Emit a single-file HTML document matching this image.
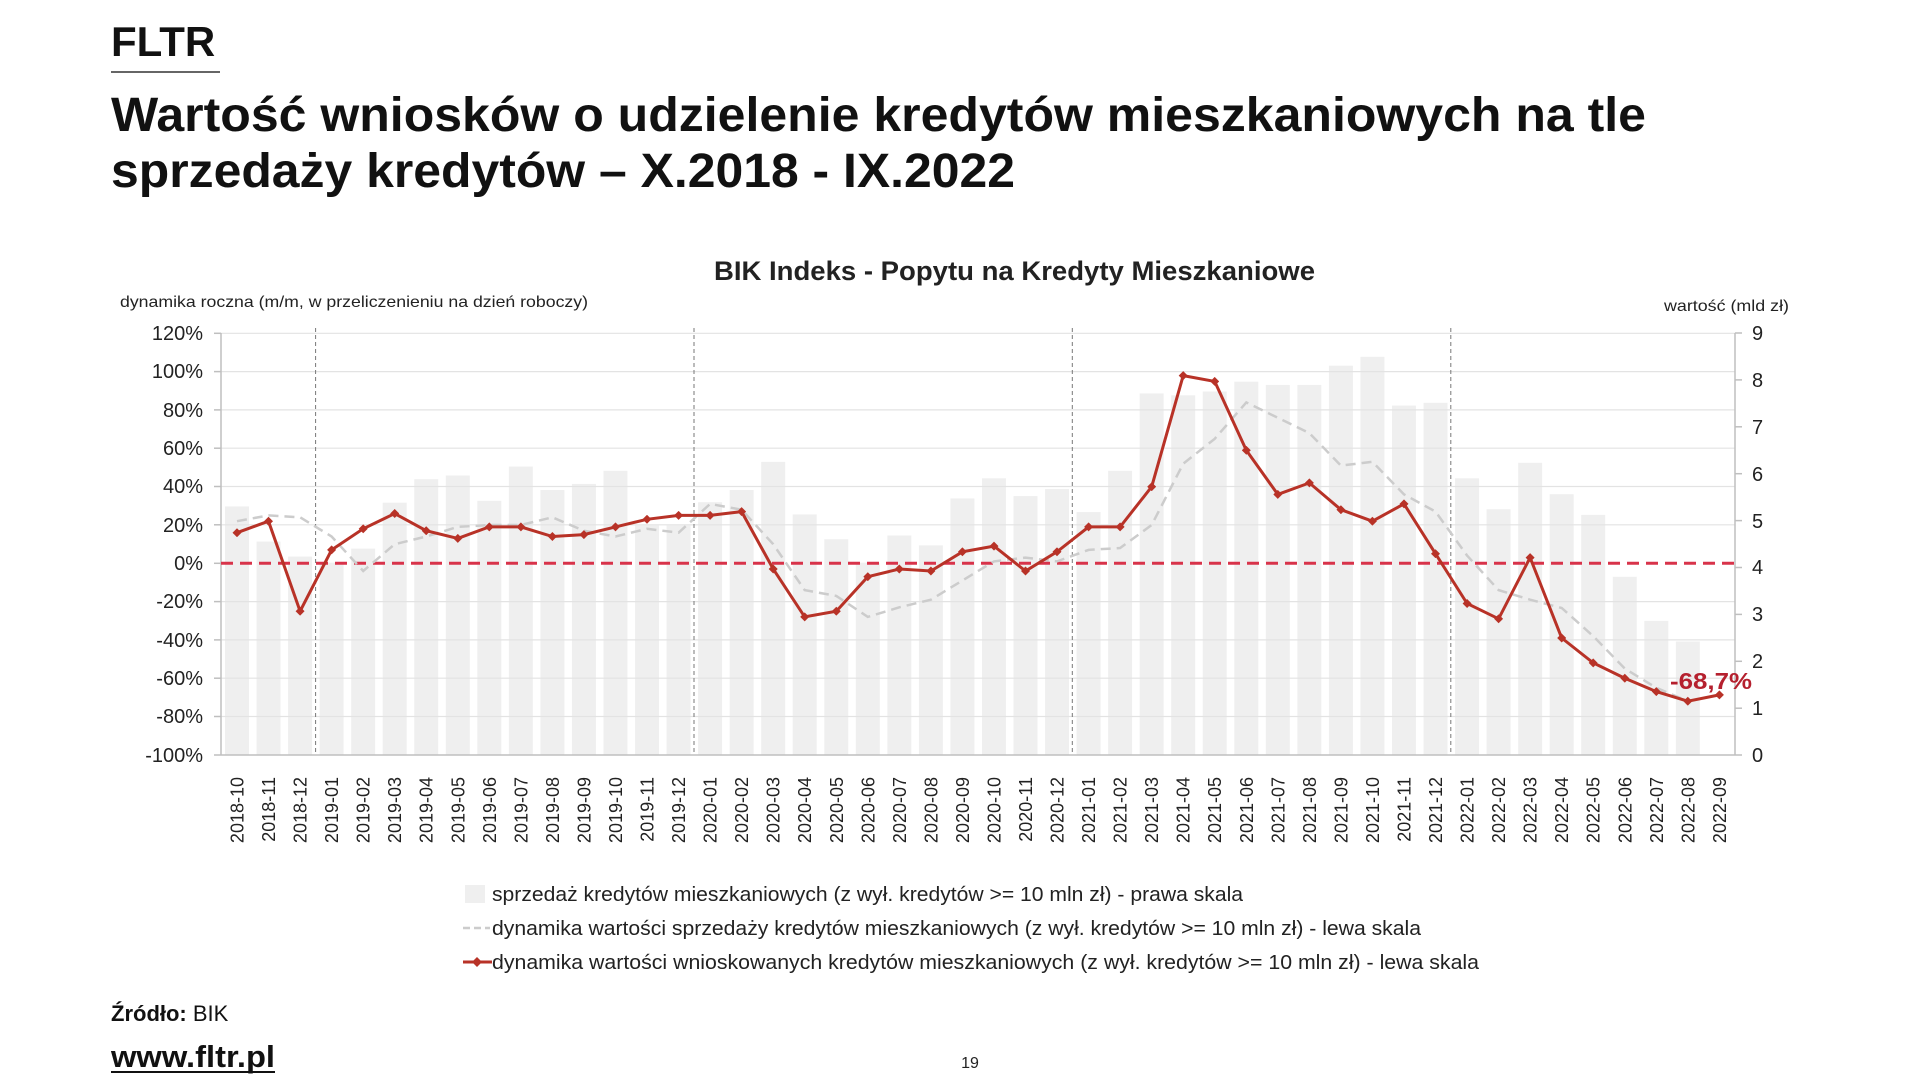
<!DOCTYPE html>
<html><head><meta charset="utf-8"><style>
html,body{margin:0;padding:0;background:#fff;width:1920px;height:1080px;overflow:hidden}
svg{display:block}
text{font-family:"Liberation Sans",sans-serif;fill:#222}
</style></head><body>
<svg width="1920" height="1080" viewBox="0 0 1920 1080" xmlns="http://www.w3.org/2000/svg">
<defs>
<marker id="dia" viewBox="-5 -5 10 10" markerWidth="9" markerHeight="9" markerUnits="userSpaceOnUse" refX="0" refY="0"><path d="M0,-5 L5,0 L0,5 L-5,0 Z" fill="#b83227"/></marker>
</defs>
<!-- header -->
<text x="111" y="56" font-size="42" font-weight="bold" fill="#111" style="fill:#111">FLTR</text>
<line x1="111" y1="72" x2="220" y2="72" stroke="#333" stroke-width="1.5"/>
<text x="111" y="131" font-size="48" font-weight="bold" textLength="1535" lengthAdjust="spacingAndGlyphs" style="fill:#111">Wartość wniosków o udzielenie kredytów mieszkaniowych na tle</text>
<text x="111" y="187" font-size="48" font-weight="bold" textLength="904" lengthAdjust="spacingAndGlyphs" style="fill:#111">sprzedaży kredytów – X.2018 - IX.2022</text>
<!-- chart title -->
<text x="714" y="280" font-size="27" font-weight="bold" textLength="601" lengthAdjust="spacingAndGlyphs" style="fill:#222">BIK Indeks - Popytu na Kredyty Mieszkaniowe</text>
<text x="120" y="307" font-size="16" textLength="468" lengthAdjust="spacingAndGlyphs">dynamika roczna (m/m, w przeliczenieniu na dzień roboczy)</text>
<text x="1664" y="311" font-size="16" textLength="125" lengthAdjust="spacingAndGlyphs">wartość (mld zł)</text>
<!-- bars -->
<g transform="translate(237,755) scale(31.54,-46.9)" fill="#efefef">
<rect x="-0.38" width="0.76" y="0" height="5.3"/><rect x="0.62" width="0.76" y="0" height="4.55"/><rect x="1.62" width="0.76" y="0" height="4.23"/><rect x="2.62" width="0.76" y="0" height="4.1"/><rect x="3.62" width="0.76" y="0" height="4.4"/><rect x="4.62" width="0.76" y="0" height="5.38"/><rect x="5.62" width="0.76" y="0" height="5.88"/><rect x="6.62" width="0.76" y="0" height="5.96"/><rect x="7.62" width="0.76" y="0" height="5.42"/><rect x="8.62" width="0.76" y="0" height="6.15"/><rect x="9.62" width="0.76" y="0" height="5.65"/><rect x="10.62" width="0.76" y="0" height="5.78"/><rect x="11.62" width="0.76" y="0" height="6.06"/><rect x="12.62" width="0.76" y="0" height="4.9"/><rect x="13.62" width="0.76" y="0" height="4.9"/><rect x="14.62" width="0.76" y="0" height="5.39"/><rect x="15.62" width="0.76" y="0" height="5.65"/><rect x="16.62" width="0.76" y="0" height="6.25"/><rect x="17.62" width="0.76" y="0" height="5.13"/><rect x="18.62" width="0.76" y="0" height="4.6"/><rect x="19.62" width="0.76" y="0" height="4.1"/><rect x="20.62" width="0.76" y="0" height="4.68"/><rect x="21.62" width="0.76" y="0" height="4.47"/><rect x="22.62" width="0.76" y="0" height="5.47"/><rect x="23.62" width="0.76" y="0" height="5.9"/><rect x="24.62" width="0.76" y="0" height="5.52"/><rect x="25.62" width="0.76" y="0" height="5.67"/><rect x="26.62" width="0.76" y="0" height="5.18"/><rect x="27.62" width="0.76" y="0" height="6.06"/><rect x="28.62" width="0.76" y="0" height="7.71"/><rect x="29.62" width="0.76" y="0" height="7.67"/><rect x="30.62" width="0.76" y="0" height="7.75"/><rect x="31.62" width="0.76" y="0" height="7.96"/><rect x="32.62" width="0.76" y="0" height="7.89"/><rect x="33.62" width="0.76" y="0" height="7.89"/><rect x="34.62" width="0.76" y="0" height="8.3"/><rect x="35.62" width="0.76" y="0" height="8.49"/><rect x="36.62" width="0.76" y="0" height="7.45"/><rect x="37.62" width="0.76" y="0" height="7.51"/><rect x="38.62" width="0.76" y="0" height="5.9"/><rect x="39.62" width="0.76" y="0" height="5.24"/><rect x="40.62" width="0.76" y="0" height="6.23"/><rect x="41.62" width="0.76" y="0" height="5.56"/><rect x="42.62" width="0.76" y="0" height="5.12"/><rect x="43.62" width="0.76" y="0" height="3.8"/><rect x="44.62" width="0.76" y="0" height="2.86"/><rect x="45.62" width="0.76" y="0" height="2.42"/>
</g>
<!-- gridlines -->
<g stroke="#e3e3e3" stroke-width="1.2">
<line x1="221" y1="333.3" x2="1735" y2="333.3"/><line x1="221" y1="371.6" x2="1735" y2="371.6"/><line x1="221" y1="409.9" x2="1735" y2="409.9"/><line x1="221" y1="448.2" x2="1735" y2="448.2"/><line x1="221" y1="486.5" x2="1735" y2="486.5"/><line x1="221" y1="524.8" x2="1735" y2="524.8"/><line x1="221" y1="601.6" x2="1735" y2="601.6"/><line x1="221" y1="639.9" x2="1735" y2="639.9"/><line x1="221" y1="678.2" x2="1735" y2="678.2"/><line x1="221" y1="716.5" x2="1735" y2="716.5"/>
</g>
<!-- axes -->
<g stroke="#bfbfbf" stroke-width="1.5">
<line x1="221" y1="333" x2="221" y2="755"/><line x1="1735" y1="333" x2="1735" y2="755"/><line x1="221" y1="755" x2="1735" y2="755"/>
<line x1="214" y1="333.3" x2="221" y2="333.3"/><line x1="214" y1="371.6" x2="221" y2="371.6"/><line x1="214" y1="409.9" x2="221" y2="409.9"/><line x1="214" y1="448.2" x2="221" y2="448.2"/><line x1="214" y1="486.5" x2="221" y2="486.5"/><line x1="214" y1="524.8" x2="221" y2="524.8"/><line x1="214" y1="563.3" x2="221" y2="563.3"/><line x1="214" y1="601.6" x2="221" y2="601.6"/><line x1="214" y1="639.9" x2="221" y2="639.9"/><line x1="214" y1="678.2" x2="221" y2="678.2"/><line x1="214" y1="716.5" x2="221" y2="716.5"/><line x1="214" y1="755" x2="221" y2="755"/>
<line x1="1735" y1="333" x2="1742" y2="333"/><line x1="1735" y1="379.9" x2="1742" y2="379.9"/><line x1="1735" y1="426.8" x2="1742" y2="426.8"/><line x1="1735" y1="473.7" x2="1742" y2="473.7"/><line x1="1735" y1="520.6" x2="1742" y2="520.6"/><line x1="1735" y1="567.5" x2="1742" y2="567.5"/><line x1="1735" y1="614.4" x2="1742" y2="614.4"/><line x1="1735" y1="661.3" x2="1742" y2="661.3"/><line x1="1735" y1="708.2" x2="1742" y2="708.2"/><line x1="1735" y1="755" x2="1742" y2="755"/>
</g>
<!-- year separators -->
<g stroke="#777" stroke-width="1" stroke-dasharray="4,3">
<line x1="315.6" y1="328" x2="315.6" y2="755"/><line x1="694" y1="328" x2="694" y2="755"/><line x1="1072.3" y1="328" x2="1072.3" y2="755"/><line x1="1450.8" y1="328" x2="1450.8" y2="755"/>
</g>
<!-- left tick labels -->
<g font-size="20" text-anchor="end">
<text x="203" y="340">120%</text><text x="203" y="378">100%</text><text x="203" y="417">80%</text><text x="203" y="455">60%</text><text x="203" y="493">40%</text><text x="203" y="532">20%</text><text x="203" y="570">0%</text><text x="203" y="608">-20%</text><text x="203" y="647">-40%</text><text x="203" y="685">-60%</text><text x="203" y="723">-80%</text><text x="203" y="762">-100%</text>
</g>
<g font-size="20">
<text x="1752" y="340">9</text><text x="1752" y="387">8</text><text x="1752" y="434">7</text><text x="1752" y="481">6</text><text x="1752" y="528">5</text><text x="1752" y="574">4</text><text x="1752" y="621">3</text><text x="1752" y="668">2</text><text x="1752" y="715">1</text><text x="1752" y="762">0</text>
</g>
<!-- zero line -->
<line x1="221" y1="563.3" x2="1735" y2="563.3" stroke="#d8334a" stroke-width="3" stroke-dasharray="12,7"/>
<!-- gray dashed -->
<polyline fill="none" stroke="#cccccc" stroke-width="2.5" stroke-dasharray="10,6" points="237,521.2 268.5,515.4 300.1,517.3 331.6,536.5 363.2,571 394.7,544.2 426.2,536.5 457.8,526.9 489.3,525 520.9,525 552.4,517.3 583.9,530.7 615.5,536.5 647,528.8 678.6,532.7 710.1,503.9 741.6,509.7 773.2,544.2 804.7,590.1 836.3,595.9 867.8,616.9 899.3,607.3 930.9,599.7 962.4,580.5 994,561.4 1025.5,557.6 1057,561.4 1088.6,549.9 1120.1,548 1151.7,525 1183.2,463.7 1214.7,438.8 1246.3,402.4 1277.8,417.8 1309.4,433.1 1340.9,465.6 1372.4,461.8 1404,494.4 1435.5,511.6 1467.1,555.6 1498.6,590.1 1530.1,599.7 1561.7,608 1593.2,636.1 1624.8,668.6 1656.3,687.8 1687.8,701.2"/>
<!-- red line -->
<polyline fill="none" stroke="#b83227" stroke-width="3" marker-start="url(#dia)" marker-mid="url(#dia)" marker-end="url(#dia)" points="237,532.7 268.5,521.2 300.1,611.2 331.6,549.9 363.2,528.8 394.7,513.5 426.2,530.7 457.8,538.4 489.3,526.9 520.9,526.9 552.4,536.5 583.9,534.6 615.5,526.9 647,519.3 678.6,515.4 710.1,515.4 741.6,511.6 773.2,569 804.7,616.9 836.3,611.2 867.8,576.7 899.3,569 930.9,571 962.4,551.8 994,546.1 1025.5,571 1057,551.8 1088.6,526.9 1120.1,526.9 1151.7,486.7 1183.2,375.6 1214.7,381.4 1246.3,450.3 1277.8,494.4 1309.4,482.9 1340.9,509.7 1372.4,521.2 1404,503.9 1435.5,553.7 1467.1,603.5 1498.6,618.8 1530.1,557.6 1561.7,638 1593.2,662.9 1624.8,678.2 1656.3,691.6 1687.8,701.2 1719.4,694.9"/>
<text x="1670" y="689" font-size="23" font-weight="bold" style="fill:#b5202e" textLength="82" lengthAdjust="spacingAndGlyphs">-68,7%</text>
<!-- x labels -->
<g font-size="18" text-anchor="end">
<text transform="translate(243.5,777) rotate(-90)">2018-10</text><text transform="translate(275,777) rotate(-90)">2018-11</text><text transform="translate(306.6,777) rotate(-90)">2018-12</text><text transform="translate(338.1,777) rotate(-90)">2019-01</text><text transform="translate(369.7,777) rotate(-90)">2019-02</text><text transform="translate(401.2,777) rotate(-90)">2019-03</text><text transform="translate(432.7,777) rotate(-90)">2019-04</text><text transform="translate(464.3,777) rotate(-90)">2019-05</text><text transform="translate(495.8,777) rotate(-90)">2019-06</text><text transform="translate(527.4,777) rotate(-90)">2019-07</text><text transform="translate(558.9,777) rotate(-90)">2019-08</text><text transform="translate(590.4,777) rotate(-90)">2019-09</text><text transform="translate(622,777) rotate(-90)">2019-10</text><text transform="translate(653.5,777) rotate(-90)">2019-11</text><text transform="translate(685.1,777) rotate(-90)">2019-12</text><text transform="translate(716.6,777) rotate(-90)">2020-01</text><text transform="translate(748.1,777) rotate(-90)">2020-02</text><text transform="translate(779.7,777) rotate(-90)">2020-03</text><text transform="translate(811.2,777) rotate(-90)">2020-04</text><text transform="translate(842.8,777) rotate(-90)">2020-05</text><text transform="translate(874.3,777) rotate(-90)">2020-06</text><text transform="translate(905.8,777) rotate(-90)">2020-07</text><text transform="translate(937.4,777) rotate(-90)">2020-08</text><text transform="translate(968.9,777) rotate(-90)">2020-09</text><text transform="translate(1000.5,777) rotate(-90)">2020-10</text><text transform="translate(1032,777) rotate(-90)">2020-11</text><text transform="translate(1063.5,777) rotate(-90)">2020-12</text><text transform="translate(1095.1,777) rotate(-90)">2021-01</text><text transform="translate(1126.6,777) rotate(-90)">2021-02</text><text transform="translate(1158.2,777) rotate(-90)">2021-03</text><text transform="translate(1189.7,777) rotate(-90)">2021-04</text><text transform="translate(1221.2,777) rotate(-90)">2021-05</text><text transform="translate(1252.8,777) rotate(-90)">2021-06</text><text transform="translate(1284.3,777) rotate(-90)">2021-07</text><text transform="translate(1315.9,777) rotate(-90)">2021-08</text><text transform="translate(1347.4,777) rotate(-90)">2021-09</text><text transform="translate(1378.9,777) rotate(-90)">2021-10</text><text transform="translate(1410.5,777) rotate(-90)">2021-11</text><text transform="translate(1442,777) rotate(-90)">2021-12</text><text transform="translate(1473.6,777) rotate(-90)">2022-01</text><text transform="translate(1505.1,777) rotate(-90)">2022-02</text><text transform="translate(1536.6,777) rotate(-90)">2022-03</text><text transform="translate(1568.2,777) rotate(-90)">2022-04</text><text transform="translate(1599.7,777) rotate(-90)">2022-05</text><text transform="translate(1631.3,777) rotate(-90)">2022-06</text><text transform="translate(1662.8,777) rotate(-90)">2022-07</text><text transform="translate(1694.3,777) rotate(-90)">2022-08</text><text transform="translate(1725.9,777) rotate(-90)">2022-09</text>
</g>
<!-- legend -->
<rect x="465" y="885" width="20" height="18" fill="#efefef"/>
<line x1="463" y1="928" x2="490" y2="928" stroke="#cccccc" stroke-width="2.5" stroke-dasharray="7,4"/>
<line x1="463" y1="962" x2="492" y2="962" stroke="#b83227" stroke-width="3"/>
<path d="M477,957 L482,962 L477,967 L472,962 Z" fill="#b83227"/>
<g font-size="20">
<text x="492" y="901" textLength="751" lengthAdjust="spacingAndGlyphs">sprzedaż kredytów mieszkaniowych (z wył. kredytów &gt;= 10 mln zł) - prawa skala</text>
<text x="492" y="935" textLength="929" lengthAdjust="spacingAndGlyphs">dynamika wartości sprzedaży kredytów mieszkaniowych (z wył. kredytów &gt;= 10 mln zł) - lewa skala</text>
<text x="492" y="969" textLength="987" lengthAdjust="spacingAndGlyphs">dynamika wartości wnioskowanych kredytów mieszkaniowych (z wył. kredytów &gt;= 10 mln zł) - lewa skala</text>
</g>
<!-- footer -->
<text x="111" y="1021" font-size="22" style="fill:#111"><tspan font-weight="bold">Źródło:</tspan> BIK</text>
<text x="111" y="1067" font-size="31" font-weight="bold" textLength="164" lengthAdjust="spacingAndGlyphs" style="fill:#111">www.fltr.pl</text>
<line x1="111" y1="1072" x2="275" y2="1072" stroke="#111" stroke-width="2"/>
<text x="970" y="1068" font-size="16" text-anchor="middle">19</text>
</svg>
</body></html>
